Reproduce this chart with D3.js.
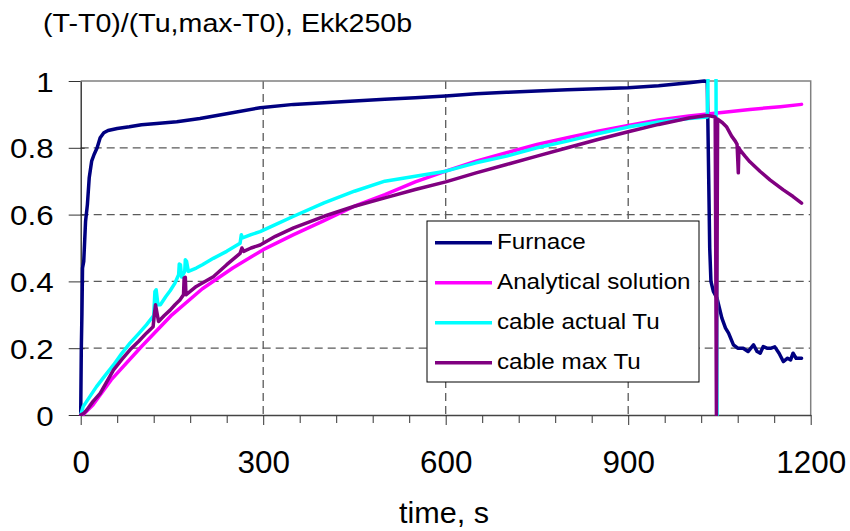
<!DOCTYPE html>
<html>
<head>
<meta charset="utf-8">
<script src="https://cdn.jsdelivr.net/npm/d3@7/dist/d3.min.js"></script>
<style>
  html, body { margin: 0; padding: 0; background: #fff; }
  svg { display: block; font-family: "Liberation Sans", Arial, sans-serif; }
</style>
</head>
<body>
<svg id="chart" width="850" height="531"></svg>
<script>
// ---------------- DATA ----------------
const title = "(T-T0)/(Tu,max-T0), Ekk250b";
const xTitle = "time, s";
const seriesNames = ["Furnace", "Analytical solution", "cable actual Tu", "cable max Tu"];
const seriesColors = ["#000080", "#FF00FF", "#00FFFF", "#800080"];
const xMajorTicks = [0, 300, 600, 900, 1200];
const xMinorTicks = [60,120,180,240,360,420,480,540,660,720,780,840,960,1020,1080,1140];
const yTicks = [0, 0.2, 0.4, 0.6, 0.8, 1];
const xGrid = [300, 600, 900];
const yGrid = [0.2, 0.4, 0.6, 0.8];

// [time s, value]
const furnace = [
  [0,0],[1,0.2],[2,0.3],[3,0.44],[5,0.46],[8,0.58],[11,0.63],[14,0.71],[18,0.76],[22,0.78],
  [27,0.80],[32,0.83],[38,0.845],[45,0.852],[60,0.858],[80,0.863],[100,0.869],[125,0.873],
  [158,0.878],[196,0.888],[240,0.902],[295,0.92],[350,0.93],[400,0.935],[450,0.94],[500,0.945],
  [550,0.95],[600,0.955],[650,0.962],[700,0.966],[750,0.97],[800,0.974],[850,0.977],[900,0.98],
  [950,0.986],[1000,0.995],[1025,1.0],[1030,0.998],[1032,0.75],[1034,0.5],[1036,0.4],[1040,0.37],
  [1046,0.35],[1050,0.32],[1054,0.29],[1060,0.26],[1065,0.245],[1073,0.21],[1080,0.2],[1089,0.2],
  [1097,0.19],[1106,0.21],[1112,0.19],[1117,0.185],[1122,0.205],[1128,0.2],[1135,0.2],[1141,0.204],
  [1148,0.185],[1155,0.16],[1162,0.17],[1167,0.165],[1171,0.185],[1176,0.17],[1185,0.17]
];
const analytical = [
  [0,0],[5,0.003],[20,0.03],[50,0.105],[100,0.205],[150,0.3],[200,0.378],[250,0.44],[300,0.495],
  [350,0.54],[400,0.582],[450,0.625],[500,0.66],[550,0.698],[600,0.73],[650,0.76],[700,0.785],
  [750,0.81],[800,0.83],[850,0.85],[900,0.867],[950,0.883],[1000,0.895],[1050,0.905],
  [1100,0.915],[1150,0.923],[1185,0.93]
];
const cableActual = [
  [0,0],[4,0.025],[15,0.055],[26,0.085],[40,0.118],[54,0.15],[67,0.183],[81,0.215],[95,0.243],
  [108,0.27],[120,0.298],[122,0.37],[124,0.375],[127,0.33],[131,0.33],[140,0.355],[147,0.372],
  [155,0.395],[161,0.42],[162,0.452],[164,0.45],[166,0.413],[171,0.43],[172,0.465],[174,0.46],
  [177,0.43],[190,0.44],[200,0.45],[218,0.469],[240,0.49],[262,0.514],[264,0.54],[266,0.53],
  [280,0.54],[295,0.549],[320,0.57],[350,0.595],[400,0.635],[450,0.67],[500,0.7],[550,0.715],
  [600,0.73],[650,0.755],[700,0.775],[750,0.8],[800,0.82],[850,0.842],[900,0.862],[950,0.877],
  [1000,0.888],[1030,0.892],[1033,1.2],[1044,1.2],[1046,0]
];
const cableMax = [
  [0,0],[5,0.005],[10,0.015],[20,0.04],[32,0.065],[43,0.1],[54,0.135],[67,0.165],[81,0.195],
  [95,0.22],[108,0.245],[119,0.264],[121,0.3],[123,0.33],[125,0.31],[128,0.28],[137,0.297],
  [147,0.314],[155,0.33],[163,0.344],[169,0.36],[170,0.41],[172,0.412],[173,0.36],[180,0.37],
  [190,0.385],[200,0.395],[218,0.414],[240,0.45],[262,0.484],[265,0.5],[268,0.49],[280,0.5],
  [295,0.509],[320,0.535],[350,0.56],[400,0.595],[450,0.625],[500,0.65],[550,0.675],[600,0.698],
  [650,0.725],[700,0.75],[750,0.775],[800,0.8],[850,0.825],[900,0.848],[950,0.87],[1000,0.889],
  [1030,0.897],[1043,0.892],[1045,0],[1047,0.886],[1055,0.875],[1062,0.862],[1070,0.835],
  [1076,0.82],[1079,0.81],[1081,0.725],[1082,0.8],[1084,0.793],[1092,0.775],[1100,0.758],
  [1117,0.729],[1133,0.704],[1155,0.674],[1171,0.654],[1185,0.634]
];
const allSeries = [furnace, analytical, cableActual, cableMax];

// ---------------- LAYOUT ----------------
const svg = d3.select("#chart");
const pLeft = 80.7, pRight = 810.7, pTop = 81, pBottom = 415;
const x = d3.scaleLinear().domain([0, 1200]).range([pLeft, pRight]);
const y = d3.scaleLinear().domain([0, 1]).range([pBottom, pTop]);

function addText(parent, tx, ty, str, size, anchor, sx) {
  return parent.append("text")
    .attr("transform", `translate(${tx},${ty}) scale(${sx},1)`)
    .attr("text-anchor", anchor)
    .attr("font-size", size)
    .attr("fill", "#000")
    .text(str);
}

// Title
addText(svg, 43, 31.5, title, 26, "start", 1.1);

// Grid lines
svg.append("g").selectAll("line").data(yGrid).join("line")
  .attr("x1", pLeft).attr("x2", pRight)
  .attr("y1", d => y(d)).attr("y2", d => y(d))
  .attr("stroke", "#5a5a5a").attr("stroke-width", 1.3).attr("stroke-dasharray", "8,5");
svg.append("g").selectAll("line").data(xGrid).join("line")
  .attr("x1", d => x(d)).attr("x2", d => x(d))
  .attr("y1", pTop).attr("y2", pBottom)
  .attr("stroke", "#5a5a5a").attr("stroke-width", 1.3).attr("stroke-dasharray", "8,5");

// Plot border (top, right)
svg.append("path")
  .attr("d", `M${pLeft},${pTop}H${pRight}V${pBottom}`)
  .attr("fill", "none").attr("stroke", "#808080").attr("stroke-width", 1.5);

// X axis minor ticks
const xMinorAxis = d3.axisBottom(x).tickValues(xMinorTicks).tickSize(8).tickSizeOuter(0).tickFormat("");
svg.append("g").attr("transform", `translate(0,${pBottom})`).call(xMinorAxis)
  .call(g => g.select(".domain").remove())
  .call(g => g.selectAll("line").attr("stroke", "#333").attr("stroke-width", 1));

// X axis major
const xAxis = d3.axisBottom(x).tickValues(xMajorTicks).tickSize(10).tickSizeOuter(0)
  .tickFormat(d3.format("d"));
svg.append("g").attr("transform", `translate(0,${pBottom})`).call(xAxis)
  .attr("font-family", null).attr("font-size", null)
  .call(g => g.select(".domain").attr("stroke", "#444").attr("stroke-width", 1.3))
  .call(g => g.selectAll(".tick line").attr("stroke", "#333").attr("stroke-width", 1))
  .call(g => g.selectAll(".tick text")
    .attr("y", null).attr("dy", null)
    .attr("transform", "translate(0,57.5) scale(1.03,1)")
    .attr("font-size", 30.5).attr("fill", "#000"));

// Y axis
const yAxis = d3.axisLeft(y).tickValues(yTicks).tickSize(12).tickSizeOuter(0)
  .tickFormat(d => (d === 0 || d === 1) ? String(d) : d.toFixed(1));
svg.append("g").attr("transform", `translate(${pLeft},0)`).call(yAxis)
  .attr("font-family", null).attr("font-size", null)
  .call(g => g.select(".domain").attr("stroke", "#222").attr("stroke-width", 1.3))
  .call(g => g.selectAll(".tick line").attr("x1", d => d === 1 ? 0 : 4).attr("stroke", "#333").attr("stroke-width", 1))
  .call(g => g.selectAll(".tick text")
    .attr("x", null).attr("dy", null)
    .attr("transform", "translate(-27,10) scale(1.12,1)")
    .attr("font-size", 28).attr("fill", "#000"));

// X title
addText(svg, 444, 523, xTitle, 30, "middle", 1.02);

// Clip
svg.append("clipPath").attr("id", "plotclip").append("rect")
  .attr("x", pLeft - 2).attr("y", pTop - 2).attr("width", pRight - pLeft + 3).attr("height", pBottom - pTop + 3);

const line = d3.line().x(d => x(d[0])).y(d => y(d[1]));
svg.append("g").attr("clip-path", "url(#plotclip)")
  .selectAll("path").data(allSeries).join("path")
  .attr("d", line)
  .attr("fill", "none")
  .attr("stroke", (d, i) => seriesColors[i])
  .attr("stroke-width", 3.5)
  .attr("stroke-linejoin", "round")
  .attr("stroke-linecap", "round");

// Legend
const lg = svg.append("g");
lg.append("rect").attr("x", 427).attr("y", 221).attr("width", 272).attr("height", 161)
  .attr("fill", "#fff").attr("stroke", "#000").attr("stroke-width", 1);
seriesNames.forEach((name, i) => {
  const ly = 242.7 + i * 40;
  lg.append("line").attr("x1", 435).attr("x2", 492).attr("y1", ly).attr("y2", ly)
    .attr("stroke", seriesColors[i]).attr("stroke-width", 3.5);
  addText(lg, 497, ly + 5.8, name, 22, "start", 1.1);
});
</script>
</body>
</html>
